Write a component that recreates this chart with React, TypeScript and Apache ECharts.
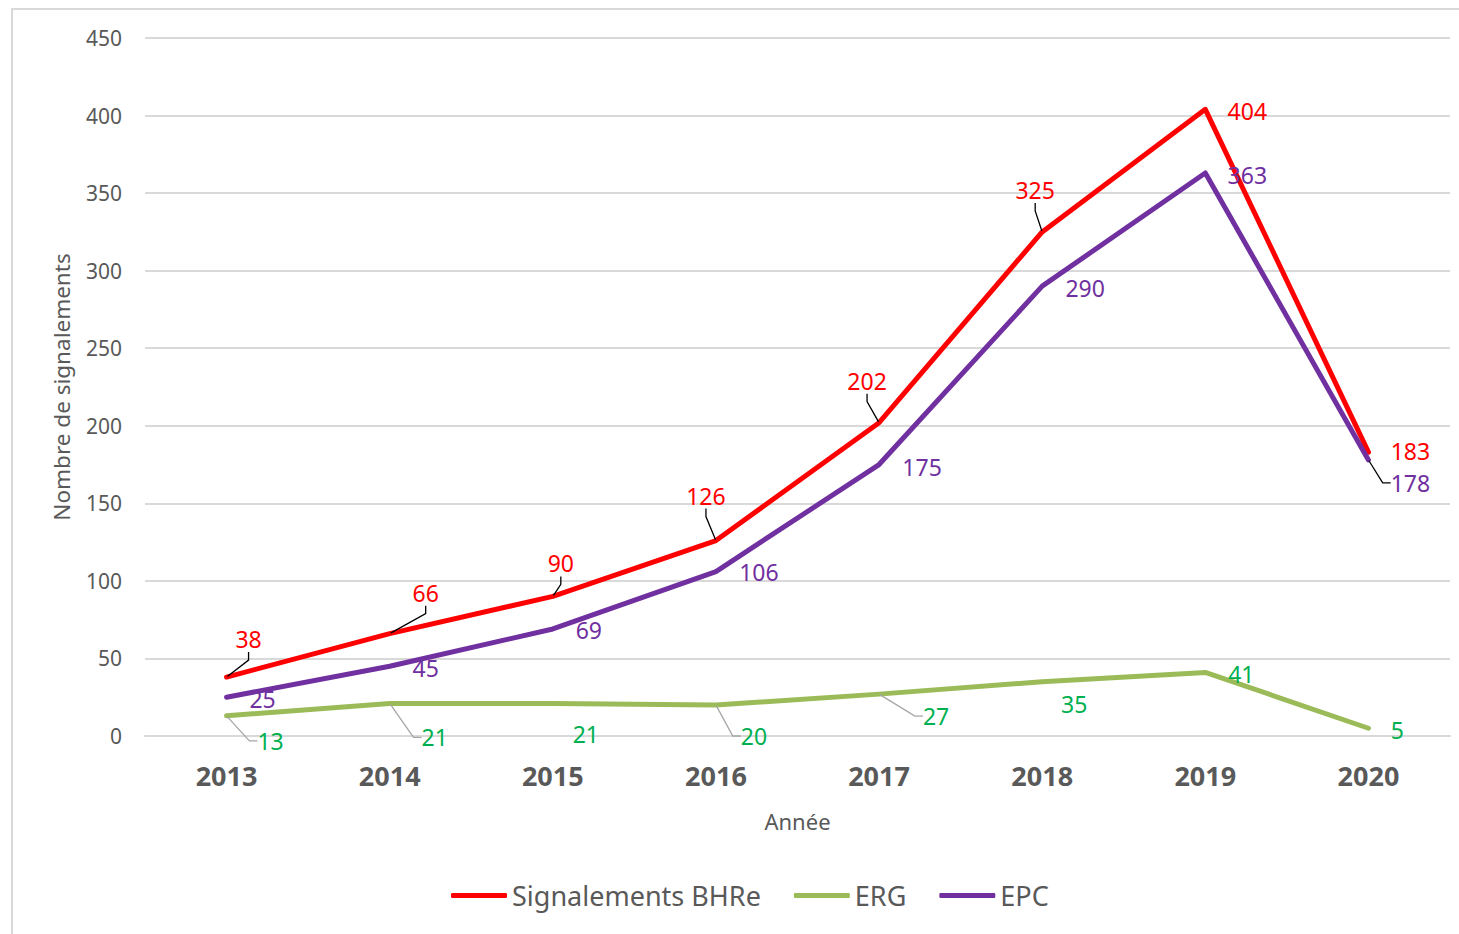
import React, { useEffect, useRef } from "react";
import * as echarts from "echarts";

const years = ["2013", "2014", "2015", "2016", "2017", "2018", "2019", "2020"];
const bhre = [38, 66, 90, 126, 202, 325, 404, 183];
const erg = [13, 21, 21, 20, 27, 35, 41, 5];
const epc = [25, 45, 69, 106, 175, 290, 363, 178];
const yTicks = [0, 50, 100, 150, 200, 250, 300, 350, 400, 450];

// label offsets (px) relative to each point, and which labels have leader lines
const bhreOffsets = [[22, -38], [36, -41], [8, -33], [-10, -45], [-12, -42], [-7, -42], [42, 2], [42, -1]];
const epcOffsets = [[36, 2], [36, 2], [36, 1], [43, 0], [43, 2], [43, 2], [42, 2], [42, 23]];
const ergOffsets = [[44, 25], [45, 34], [33, 31], [38, 31], [57, 22], [32, 22], [36, 2], [29, 2]];
const bhreLeader = [true, true, true, true, true, true, false, false];
const epcLeader = [false, false, false, false, false, false, false, true];
const ergLeader = [true, true, false, true, true, false, false, false];

const FONT = "'Noto Sans', 'Open Sans', sans-serif";

export default function App() {
  const ref = useRef<HTMLDivElement>(null);
  useEffect(() => {
    if (!ref.current) return;
    const chart = echarts.init(ref.current, undefined, { renderer: "svg" });
    const offsets = [bhreOffsets, ergOffsets, epcOffsets];
    const mk = (vals: number[], leader: boolean[], lineColor: string) =>
      vals.map((v, i) => ({
        value: v,
        labelLine: { show: leader[i], length2: 8, lineStyle: { color: lineColor, width: 1.3 } },
      }));
    const lineSeries = (name: string, vals: number[], leader: boolean[], color: string, labelColor: string, guide: string) => ({
      name,
      type: "line",
      data: mk(vals, leader, guide),
      symbol: "circle",
      symbolSize: 2,
      showSymbol: true,
      lineStyle: { color, width: 5, cap: "round", join: "round" },
      itemStyle: { color },
      label: {
        show: true,
        color: labelColor,
        fontSize: 23,
        lineHeight: 26,
        fontFamily: FONT,
      },
      labelLine: { show: false },
    });
    chart.setOption({
      animation: false,
      backgroundColor: "#ffffff",
      textStyle: { fontFamily: FONT },
      graphic: [
        {
          type: "rect",
          shape: { x: 12, y: 9, width: 1470, height: 960 },
          style: { fill: "none", stroke: "#d9d9d9", lineWidth: 2 },
          silent: true,
          z: -1,
        },
      ],
      grid: { left: 145, right: 9, top: 38, bottom: 198 },
      legend: {
        top: 877,
        left: 446,
        icon: "roundRect",
        itemWidth: 56,
        itemHeight: 5,
        itemGap: 33,
        textStyle: { fontSize: 27, color: "#595959", fontFamily: FONT },
        data: ["Signalements BHRe", "ERG", "EPC"],
      },
      xAxis: {
        type: "category",
        data: years,
        name: "Année",
        nameLocation: "middle",
        nameGap: 74,
        nameTextStyle: { fontSize: 22, color: "#595959", fontFamily: FONT },
        axisLine: { lineStyle: { color: "#d9d9d9", width: 2 } },
        axisTick: { show: false },
        axisLabel: { fontSize: 27, fontWeight: "bold", color: "#595959", margin: 26, fontFamily: FONT },
      },
      yAxis: {
        type: "value",
        min: yTicks[0],
        max: yTicks[yTicks.length - 1],
        interval: yTicks[1] - yTicks[0],
        name: "Nombre de signalements",
        nameLocation: "middle",
        nameGap: 72,
        nameRotate: 90,
        nameTextStyle: { fontSize: 22.5, color: "#595959", fontFamily: FONT },
        axisLine: { show: false },
        axisTick: { show: false },
        axisLabel: { fontSize: 21, color: "#595959", margin: 23, fontFamily: FONT },
        splitLine: { lineStyle: { color: "#d9d9d9", width: 2 } },
      },
      labelLayout: (params: any) => {
        const off = offsets[params.seriesIndex]?.[params.dataIndex];
        if (!off) return {};
        const cx = params.rect.x + params.rect.width / 2;
        const cy = params.rect.y + params.rect.height / 2;
        return { x: cx + off[0], y: cy + off[1], align: "center", verticalAlign: "middle" };
      },
      series: [
        lineSeries("Signalements BHRe", bhre, bhreLeader, "#ff0000", "#ff0000", "#000000"),
        lineSeries("ERG", erg, ergLeader, "#9bbb59", "#00b050", "#a6a6a6"),
        lineSeries("EPC", epc, epcLeader, "#7030a0", "#7030a0", "#000000"),
      ],
    });
    return () => chart.dispose();
  }, []);
  return (
    <div
      ref={ref}
      style={{ position: "fixed", left: 0, top: 0, width: 1459, height: 934, background: "#fff" }}
    />
  );
}
